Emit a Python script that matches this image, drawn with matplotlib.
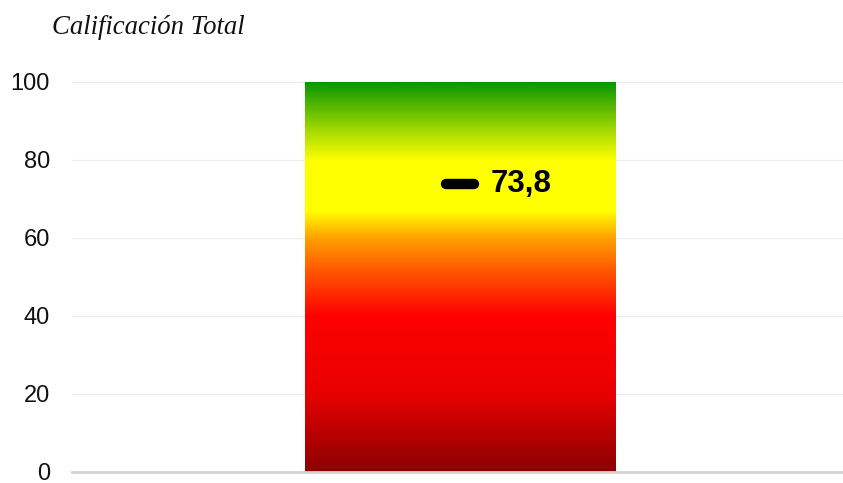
import matplotlib
matplotlib.use("Agg")
import matplotlib.pyplot as plt
import numpy as np
from matplotlib.colors import LinearSegmentedColormap
from matplotlib.markers import MarkerStyle

# Data
categories = ["Calificación Total"]
max_score = [100]
scores = [73.8]
tick_values = [0, 20, 40, 60, 80, 100]

fig = plt.figure(figsize=(8.43, 4.83), dpi=100)
ax = fig.add_axes([72 / 843, 11 / 483, 771 / 843, 390 / 483])

# Background bar spanning the full scale, filled with a vertical gradient
bars = ax.bar(range(len(categories)), max_score, width=0.8, color="none",
              edgecolor="none", zorder=2)

cmap = LinearSegmentedColormap.from_list(
    "score",
    [(0.00, "#8c0000"),
     (0.20, "#e80000"),
     (0.40, "#ff0000"),
     (0.52, "#ff5a00"),
     (0.60, "#ffa000"),
     (0.67, "#ffff00"),
     (0.80, "#ffff00"),
     (0.88, "#a0d800"),
     (1.00, "#0a9600")],
)
grad = np.linspace(0, 1, 512).reshape(-1, 1)
for b in bars:
    x0, w, h = b.get_x(), b.get_width(), b.get_height()
    im = ax.imshow(grad, cmap=cmap, aspect="auto", origin="lower",
                   extent=(x0, x0 + w, 0, h), zorder=2, interpolation="bilinear")
    im.set_clip_path(b)

# Score marker and label
dash = MarkerStyle("_", capstyle="round")
for i, s in enumerate(scores):
    ax.plot([i], [s], marker=dash, markersize=19.5, markeredgewidth=7.5,
            color="black", zorder=4)
    ax.annotate(f"{s:.1f}".replace(".", ","), xy=(i, s), xytext=(22, 0),
                textcoords="offset points", ha="left", va="center",
                fontsize=22.5, fontweight="bold", family="Liberation Sans",
                color="black", zorder=5)

ax.set_xlim(-1.0, 0.985)
ax.set_ylim(0, 100)
ax.set_yticks(tick_values)
ax.set_yticklabels([str(v) for v in tick_values], family="Liberation Sans",
                   fontsize=17, color="#111111")
ax.set_xticks([])
ax.tick_params(axis="y", length=0, pad=16)
ax.grid(axis="y", color="#ececec", linewidth=0.8, zorder=0)
ax.set_axisbelow(True)
for side in ["top", "right", "left"]:
    ax.spines[side].set_visible(False)
ax.spines["bottom"].set_color("#d4d4d4")
ax.spines["bottom"].set_linewidth(2)

fig.text(52 / 843, 1 - 28 / 483, "Calificación Total", family="Liberation Serif",
         style="italic", fontsize=19.3, ha="left", va="center", color="#111111")

fig.savefig("out.png", dpi=100)
